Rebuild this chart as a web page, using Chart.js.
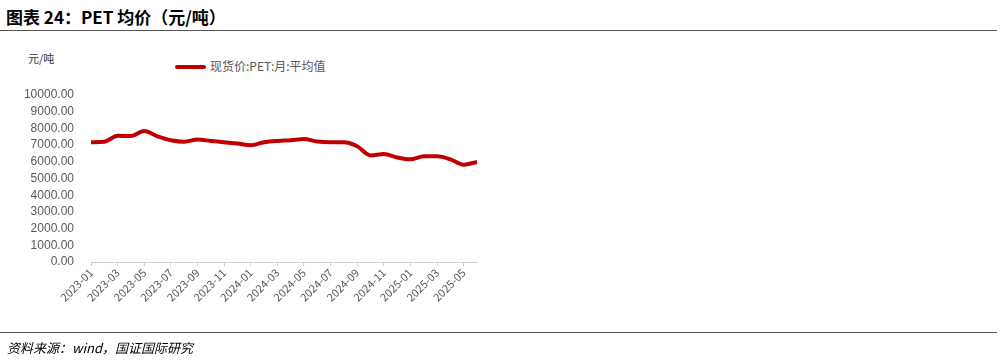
<!DOCTYPE html>
<html>
<head>
<meta charset="utf-8">
<script src="https://cdn.jsdelivr.net/npm/chart.js@4.4.0/dist/chart.umd.min.js"></script>
<style>
  html, body { margin: 0; padding: 0; background: #fff; }
  body { width: 1001px; height: 364px; position: relative; overflow: hidden; font-family: "Noto Sans CJK SC", "Liberation Sans", sans-serif; }
  #title { position: absolute; left: 6px; top: 4px; font-size: 17px; font-weight: bold; color: #000; white-space: nowrap; }
  #topline { position: absolute; left: 0; top: 30px; width: 997px; height: 0; border-top: 1.5px solid #555; }
  #botline { position: absolute; left: 0; top: 332px; width: 997px; height: 0; border-top: 1.5px solid #555; }
  #source { position: absolute; left: 7px; top: 338px; font-size: 13px; font-style: italic; color: #000; white-space: nowrap; }
  #unit { position: absolute; left: 28px; top: 50px; font-size: 11px; color: #333; }
  #legend { position: absolute; left: 175px; top: 57px; font-size: 12px; color: #595959; white-space: nowrap; }
  #legend .sw { display: inline-block; width: 31px; height: 4px; background: #C00000; border-radius: 2px; vertical-align: middle; margin-right: 4px; position: relative; top: -1px; }
  #wrap { position: absolute; left: 0; top: 0; width: 1001px; height: 364px; }
</style>
</head>
<body>
<div id="title">图表 24：PET 均价（元/吨）</div>
<div id="topline"></div>
<div id="unit">元/吨</div>
<div id="legend"><span class="sw"></span>现货价:PET:月:平均值</div>
<div id="wrap"><canvas id="c"></canvas></div>
<div id="botline"></div>
<div id="source">资料来源：wind，国证国际研究</div>
<script>
const categories = [
  "2023-01","2023-02","2023-03","2023-04","2023-05","2023-06","2023-07","2023-08","2023-09","2023-10","2023-11","2023-12",
  "2024-01","2024-02","2024-03","2024-04","2024-05","2024-06","2024-07","2024-08","2024-09","2024-10","2024-11","2024-12",
  "2025-01","2025-02","2025-03","2025-04","2025-05","2025-06"
];
const petPrice = [
  7170, 7200, 7560, 7540, 7840, 7520, 7290, 7200, 7330, 7250, 7170, 7090,
  6990, 7170, 7250, 7290, 7360, 7210, 7170, 7170, 6930, 6380, 6460, 6260,
  6150, 6330, 6330, 6150, 5830, 5990
];
const yTicks = [0, 1000, 2000, 3000, 4000, 5000, 6000, 7000, 8000, 9000, 10000];

new Chart(document.getElementById('c'), {
  type: 'line',
  data: {
    labels: categories,
    datasets: [{
      label: '现货价:PET:月:平均值',
      data: petPrice,
      borderColor: '#C00000',
      backgroundColor: '#C00000',
      borderWidth: 4,
      pointRadius: 0,
      tension: 0.4,
      cubicInterpolationMode: 'monotone',
      fill: false
    }]
  },
  options: {
    responsive: true,
    maintainAspectRatio: false,
    animation: false,
    layout: { padding: { left: 10, right: 524, top: 95, bottom: 45 } },
    plugins: { legend: { display: false }, tooltip: { enabled: false } },
    scales: {
      x: {
        type: 'category',
        offset: false,
        grid: {
          drawOnChartArea: false,
          drawTicks: true,
          tickLength: 4,
          color: (ctx) => (ctx.index % 2 === 0 ? '#cfcfcf' : 'rgba(0,0,0,0)')
        },
        border: { display: true, color: '#cfcfcf', width: 1 },
        ticks: {
          autoSkip: false,
          maxRotation: 45,
          minRotation: 45,
          padding: 0,
          color: '#595959',
          font: { size: 11, family: '"Noto Sans CJK SC", "Liberation Sans", sans-serif' },
          callback: function (v, i) { return i % 2 === 0 ? categories[i] : ''; }
        },
        afterFit: (s) => { s.height = 57; }
      },
      y: {
        min: 0,
        max: 10000,
        afterBuildTicks: (s) => { s.ticks = yTicks.map(v => ({ value: v })); },
        grid: { display: false },
        border: { display: false },
        ticks: {
          autoSkip: false,
          padding: 9,
          color: '#595959',
          font: { size: 12, family: '"Liberation Sans", "Noto Sans CJK SC", sans-serif' },
          callback: (v) => Number(v).toFixed(2)
        },
        afterFit: (s) => { s.width = 81; }
      }
    }
  }
});
</script>
</body>
</html>
